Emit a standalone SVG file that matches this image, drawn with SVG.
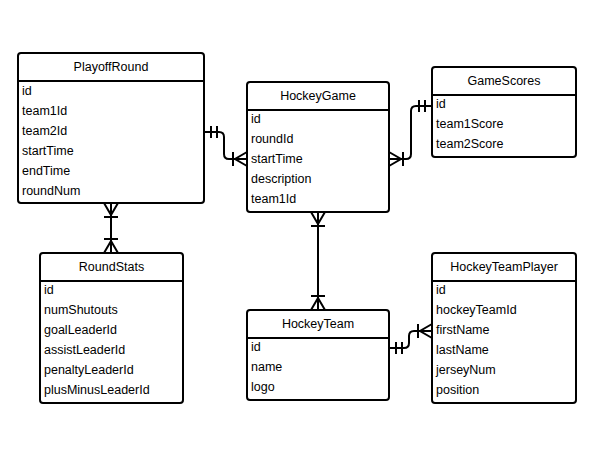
<svg xmlns="http://www.w3.org/2000/svg" width="600" height="450" viewBox="0 0 600 450">
<style>
.box{fill:#fff;stroke:#000;stroke-width:2}
.div{stroke:#000;stroke-width:2}
.t{font-family:"Liberation Sans",Arial,Helvetica,sans-serif;font-size:12.5px;fill:#000}
.h{text-anchor:middle}
.c{fill:none;stroke:#000;stroke-width:2}
.m{fill:none;stroke:#000;stroke-width:2}
</style>
<defs>
<marker id="oneS" markerUnits="userSpaceOnUse" orient="auto-start-reverse" markerWidth="30" markerHeight="30" refX="0" refY="0" overflow="visible"><path class="m" d="M-7,-6V6M-13,-6V6"/></marker>
<marker id="oneE" markerUnits="userSpaceOnUse" orient="auto" markerWidth="30" markerHeight="30" refX="0" refY="0" overflow="visible"><path class="m" d="M-7,-6V6M-13,-6V6"/></marker>
<marker id="manyS" markerUnits="userSpaceOnUse" orient="auto-start-reverse" markerWidth="30" markerHeight="30" refX="0" refY="0" overflow="visible"><path class="m" d="M0,-7L-12,0L0,7M-14,-7V7"/></marker>
<marker id="manyE" markerUnits="userSpaceOnUse" orient="auto" markerWidth="30" markerHeight="30" refX="0" refY="0" overflow="visible"><path class="m" d="M0,-7L-12,0L0,7M-14,-7V7"/></marker>
</defs>
<g id="connectors">
<path class="c" d="M204,132H219Q224,132 224,137V154Q224,159 229,159H247" marker-start="url(#oneS)" marker-end="url(#manyE)"/>
<path class="c" d="M389,159H406Q411,159 411,154V111Q411,106 416,106H432" marker-start="url(#manyS)" marker-end="url(#oneE)"/>
<path class="c" d="M111,203V253" marker-start="url(#manyS)" marker-end="url(#manyE)"/>
<path class="c" d="M318,212V310" marker-start="url(#manyS)" marker-end="url(#manyE)"/>
<path class="c" d="M389,348H404Q409,348 409,343V336Q409,331 414,331H432" marker-start="url(#oneS)" marker-end="url(#manyE)"/>
</g>
<g id="PlayoffRound">
<rect class="box" x="18" y="53" width="186" height="150" rx="3"/>
<line class="div" x1="18" y1="81" x2="204" y2="81"/>
<text class="t h" x="111" y="71">PlayoffRound</text>
<text class="t" x="22" y="95">id</text>
<text class="t" x="22" y="115">team1Id</text>
<text class="t" x="22" y="135">team2Id</text>
<text class="t" x="22" y="155">startTime</text>
<text class="t" x="22" y="175">endTime</text>
<text class="t" x="22" y="195">roundNum</text>
</g>
<g id="HockeyGame">
<rect class="box" x="247" y="82" width="142" height="130" rx="3"/>
<line class="div" x1="247" y1="110" x2="389" y2="110"/>
<text class="t h" x="318" y="100">HockeyGame</text>
<text class="t" x="251" y="123">id</text>
<text class="t" x="251" y="143">roundId</text>
<text class="t" x="251" y="163">startTime</text>
<text class="t" x="251" y="183">description</text>
<text class="t" x="251" y="203">team1Id</text>
</g>
<g id="GameScores">
<rect class="box" x="432" y="67" width="144" height="90" rx="3"/>
<line class="div" x1="432" y1="95" x2="576" y2="95"/>
<text class="t h" x="504" y="85">GameScores</text>
<text class="t" x="436" y="108">id</text>
<text class="t" x="436" y="128">team1Score</text>
<text class="t" x="436" y="148">team2Score</text>
</g>
<g id="RoundStats">
<rect class="box" x="40" y="253" width="143" height="150" rx="3"/>
<line class="div" x1="40" y1="281" x2="183" y2="281"/>
<text class="t h" x="111.5" y="271">RoundStats</text>
<text class="t" x="44" y="294">id</text>
<text class="t" x="44" y="314">numShutouts</text>
<text class="t" x="44" y="334">goalLeaderId</text>
<text class="t" x="44" y="354">assistLeaderId</text>
<text class="t" x="44" y="374">penaltyLeaderId</text>
<text class="t" x="44" y="394">plusMinusLeaderId</text>
</g>
<g id="HockeyTeam">
<rect class="box" x="247" y="310" width="142" height="90" rx="3"/>
<line class="div" x1="247" y1="338" x2="389" y2="338"/>
<text class="t h" x="318" y="328">HockeyTeam</text>
<text class="t" x="251" y="351">id</text>
<text class="t" x="251" y="371">name</text>
<text class="t" x="251" y="391">logo</text>
</g>
<g id="HockeyTeamPlayer">
<rect class="box" x="432" y="253" width="144" height="150" rx="3"/>
<line class="div" x1="432" y1="281" x2="576" y2="281"/>
<text class="t h" x="504" y="271">HockeyTeamPlayer</text>
<text class="t" x="436" y="294">id</text>
<text class="t" x="436" y="314">hockeyTeamId</text>
<text class="t" x="436" y="334">firstName</text>
<text class="t" x="436" y="354">lastName</text>
<text class="t" x="436" y="374">jerseyNum</text>
<text class="t" x="436" y="394">position</text>
</g>
</svg>
